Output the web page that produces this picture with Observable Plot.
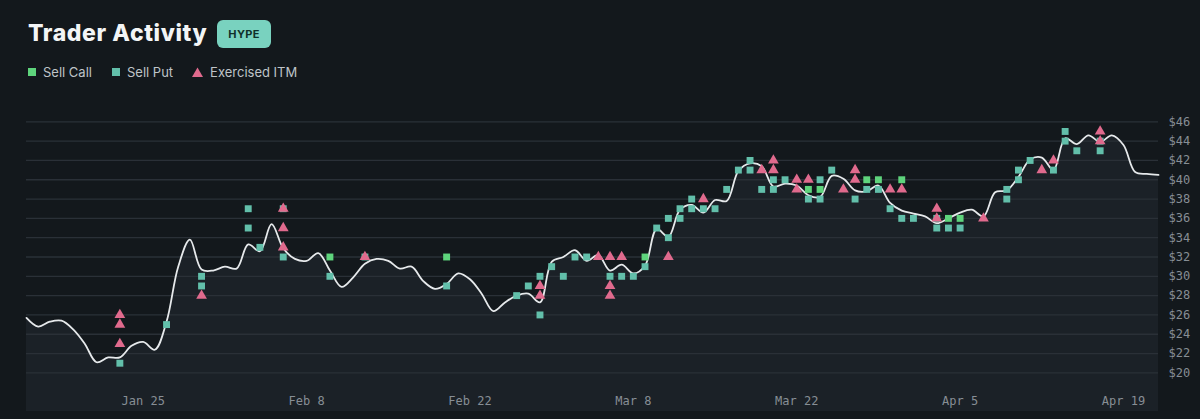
<!DOCTYPE html>
<html>
<head>
<meta charset="utf-8">
<script src="https://cdn.jsdelivr.net/npm/d3@7"></script>
<script src="https://cdn.jsdelivr.net/npm/@observablehq/plot@0.6"></script>
<style>
  html, body { margin: 0; padding: 0; }
  body { background: #13181c; width: 1200px; height: 419px; overflow: hidden; position: relative; font-family: Inter, "Noto Sans", sans-serif; }
  #title { position: absolute; left: 28px; top: 19px; font-size: 23px; font-weight: 800; color: #f3f5f6; letter-spacing: 0.6px; }
  #badge { position: absolute; left: 217px; top: 20px; width: 54px; height: 28px; border-radius: 6px; background: #79d2bf; color: #10302a; font-size: 11px; font-weight: 700; display: flex; align-items: center; justify-content: center; letter-spacing: 0.3px; }
  #legend { position: absolute; left: 27px; top: 64px; display: flex; align-items: center; font-size: 13px; color: #bfc4c8; }
  #legend .item { display: flex; align-items: center; margin-right: 19px; }
  #chart { position: absolute; left: 0; top: 95px; }
</style>
</head>
<body>
<div id="title">Trader Activity</div>
<div id="badge">HYPE</div>
<div id="legend"></div>
<div id="chart"></div>
<script>
// ---- data ----
const priceStart = "2025-01-15";
const prices = [
  25.7, 24.8, 25.3, 25.4, 24.5, 23.0, 21.1, 21.6, 21.6, 22.8,
  23.2, 22.4, 25.3, 31.0, 33.8, 30.7, 30.6, 31.0, 30.8, 33.3,
  32.6, 35.4, 32.9, 31.8, 31.6, 32.4, 30.6, 28.9, 29.9, 31.3,
  31.8, 31.6, 30.8, 31.0, 29.5, 28.7, 29.2, 30.3, 29.7, 28.2,
  26.4, 27.3, 28.0, 28.2, 27.3, 31.5, 32.0, 32.7, 31.6, 32.2,
  30.6, 31.2, 30.3, 31.1, 34.9, 34.1, 36.9, 37.4, 36.6, 37.9,
  37.8, 40.9, 41.7, 41.4, 39.3, 39.6, 39.4, 38.4, 38.2, 40.4,
  40.1, 38.9, 38.8, 39.4, 37.6, 36.8, 36.5, 36.2, 35.5, 36.0,
  36.6, 36.9, 36.2, 38.7, 38.9, 40.3, 42.1, 42.3, 41.0, 44.3,
  43.7, 44.6, 43.9, 44.6, 43.6, 40.8, 40.6, 40.5
];

const sellCall = [
  ["2025-02-10", 32], ["2025-02-20", 32], ["2025-03-09", 32],
  ["2025-03-23", 39], ["2025-03-24", 39], ["2025-03-28", 40],
  ["2025-03-29", 40], ["2025-03-31", 40], ["2025-04-04", 36],
  ["2025-04-05", 36]
];

const sellPut = [
  ["2025-01-23", 21], ["2025-01-27", 25], ["2025-01-30", 30], ["2025-01-30", 29],
  ["2025-02-03", 37], ["2025-02-03", 35], ["2025-02-04", 33], ["2025-02-06", 37],
  ["2025-02-06", 32], ["2025-02-10", 30], ["2025-02-13", 32], ["2025-02-20", 29],
  ["2025-02-26", 28], ["2025-02-27", 29], ["2025-02-28", 30], ["2025-02-28", 26],
  ["2025-03-01", 31], ["2025-03-02", 30], ["2025-03-03", 32], ["2025-03-04", 32],
  ["2025-03-06", 30], ["2025-03-07", 30], ["2025-03-08", 30], ["2025-03-09", 31],
  ["2025-03-10", 35], ["2025-03-11", 36], ["2025-03-11", 34], ["2025-03-12", 37],
  ["2025-03-12", 36], ["2025-03-13", 38], ["2025-03-13", 37], ["2025-03-14", 37],
  ["2025-03-15", 37], ["2025-03-16", 39], ["2025-03-17", 41], ["2025-03-18", 42],
  ["2025-03-18", 41], ["2025-03-19", 39], ["2025-03-20", 40], ["2025-03-20", 39],
  ["2025-03-21", 40], ["2025-03-23", 38], ["2025-03-24", 40], ["2025-03-24", 38],
  ["2025-03-25", 41], ["2025-03-27", 38], ["2025-03-28", 39], ["2025-03-29", 39],
  ["2025-03-30", 37], ["2025-03-31", 36], ["2025-04-01", 36], ["2025-04-03", 36],
  ["2025-04-03", 35], ["2025-04-04", 35], ["2025-04-05", 35], ["2025-04-09", 39],
  ["2025-04-09", 38], ["2025-04-10", 41], ["2025-04-10", 40], ["2025-04-11", 42],
  ["2025-04-13", 41], ["2025-04-14", 45], ["2025-04-14", 44], ["2025-04-15", 43],
  ["2025-04-17", 44], ["2025-04-17", 43]
];

const exercisedITM = [
  ["2025-01-23", 26], ["2025-01-23", 25], ["2025-01-23", 23], ["2025-01-30", 28],
  ["2025-02-06", 37], ["2025-02-06", 35], ["2025-02-06", 33], ["2025-02-13", 32],
  ["2025-02-28", 29], ["2025-02-28", 28], ["2025-03-05", 32], ["2025-03-06", 32],
  ["2025-03-06", 29], ["2025-03-06", 28], ["2025-03-07", 32], ["2025-03-11", 32],
  ["2025-03-14", 38], ["2025-03-19", 41], ["2025-03-20", 42], ["2025-03-20", 41],
  ["2025-03-22", 40], ["2025-03-22", 39], ["2025-03-23", 40], ["2025-03-26", 39],
  ["2025-03-27", 41], ["2025-03-27", 40], ["2025-03-30", 39], ["2025-03-31", 39],
  ["2025-04-03", 37], ["2025-04-03", 36], ["2025-04-07", 36], ["2025-04-12", 41],
  ["2025-04-13", 42], ["2025-04-17", 45], ["2025-04-17", 44]
];

const yTicks = [20, 22, 24, 26, 28, 30, 32, 34, 36, 38, 40, 42, 44, 46];
const xTickLabels = ["2025-01-25", "2025-02-08", "2025-02-22", "2025-03-08", "2025-03-22", "2025-04-05", "2025-04-19"];
const xDomain = ["2025-01-15", "2025-04-22"];
const yDomain = [16, 48];

const colors = { call: "#5ed47c", put: "#62bfaa", itm: "#e06a8d" };

// ---- build tables ----
const parse = d3.utcParse("%Y-%m-%d");
const start = parse(priceStart);
const series = prices.map((p, i) => ({ date: d3.utcDay.offset(start, i), price: p }));
const toRows = arr => arr.map(([d, v]) => ({ date: parse(d), price: v }));
const callRows = toRows(sellCall);
const putRows = toRows(sellPut);
const itmRows = toRows(exercisedITM);

// ---- legend ----
const legendItems = [
  { label: "Sell Call", color: colors.call, shape: "square" },
  { label: "Sell Put", color: colors.put, shape: "square" },
  { label: "Exercised ITM", color: colors.itm, shape: "triangle" }
];
const legend = document.getElementById("legend");
for (const it of legendItems) {
  const div = document.createElement("div");
  div.className = "item";
  const shape = it.shape === "square"
    ? `<rect x="1" y="1" width="8" height="8" fill="${it.color}"/>`
    : `<path d="M5.5,0.5 L11,10 L0,10 Z" fill="${it.color}"/>`;
  const w = it.shape === "square" ? 10 : 11;
  div.innerHTML = `<svg width="${w}" height="10" style="margin-right:${it.shape === "square" ? 6 : 7}px">${shape}</svg><span>${it.label}</span>`;
  legend.appendChild(div);
}

// ---- chart ----
const fmt = d3.utcFormat("%b %-d");
const chart = Plot.plot({
  width: 1200,
  height: 324,
  marginLeft: 26,
  marginRight: 42,
  marginTop: 7,
  marginBottom: 8,
  style: { background: "transparent", color: "#878e95", fontFamily: "'DejaVu Sans Mono', monospace", fontSize: "12px" },
  x: { type: "utc", domain: xDomain.map(parse), label: null },
  y: { domain: yDomain, label: null },
  marks: [
    Plot.areaY(series, { x: "date", y1: yDomain[0], y2: "price", fill: "#1b2127", curve: "catmull-rom" }),
    Plot.ruleY(yTicks, { stroke: "#2a3037", strokeWidth: 1.3 }),
    Plot.line(series, { x: "date", y: "price", stroke: "#e6e9eb", strokeWidth: 1.8, curve: "catmull-rom" }),
    Plot.dot(putRows, { x: "date", y: "price", symbol: "square", fill: colors.put, r: 3.9 }),
    Plot.dot(callRows, { x: "date", y: "price", symbol: "square", fill: colors.call, r: 3.9 }),
    Plot.dot(itmRows, { x: "date", y: "price", symbol: "triangle", fill: colors.itm, r: 4 }),
    Plot.axisY({ anchor: "right", ticks: yTicks, tickSize: 0, tickPadding: 10, tickFormat: d => "$" + d, label: null }),
    Plot.axisX({ anchor: "bottom", ticks: xTickLabels.map(parse), tickSize: 0, tickPadding: -15, tickFormat: fmt, label: null })
  ]
});
document.getElementById("chart").appendChild(chart);
</script>
</body>
</html>
